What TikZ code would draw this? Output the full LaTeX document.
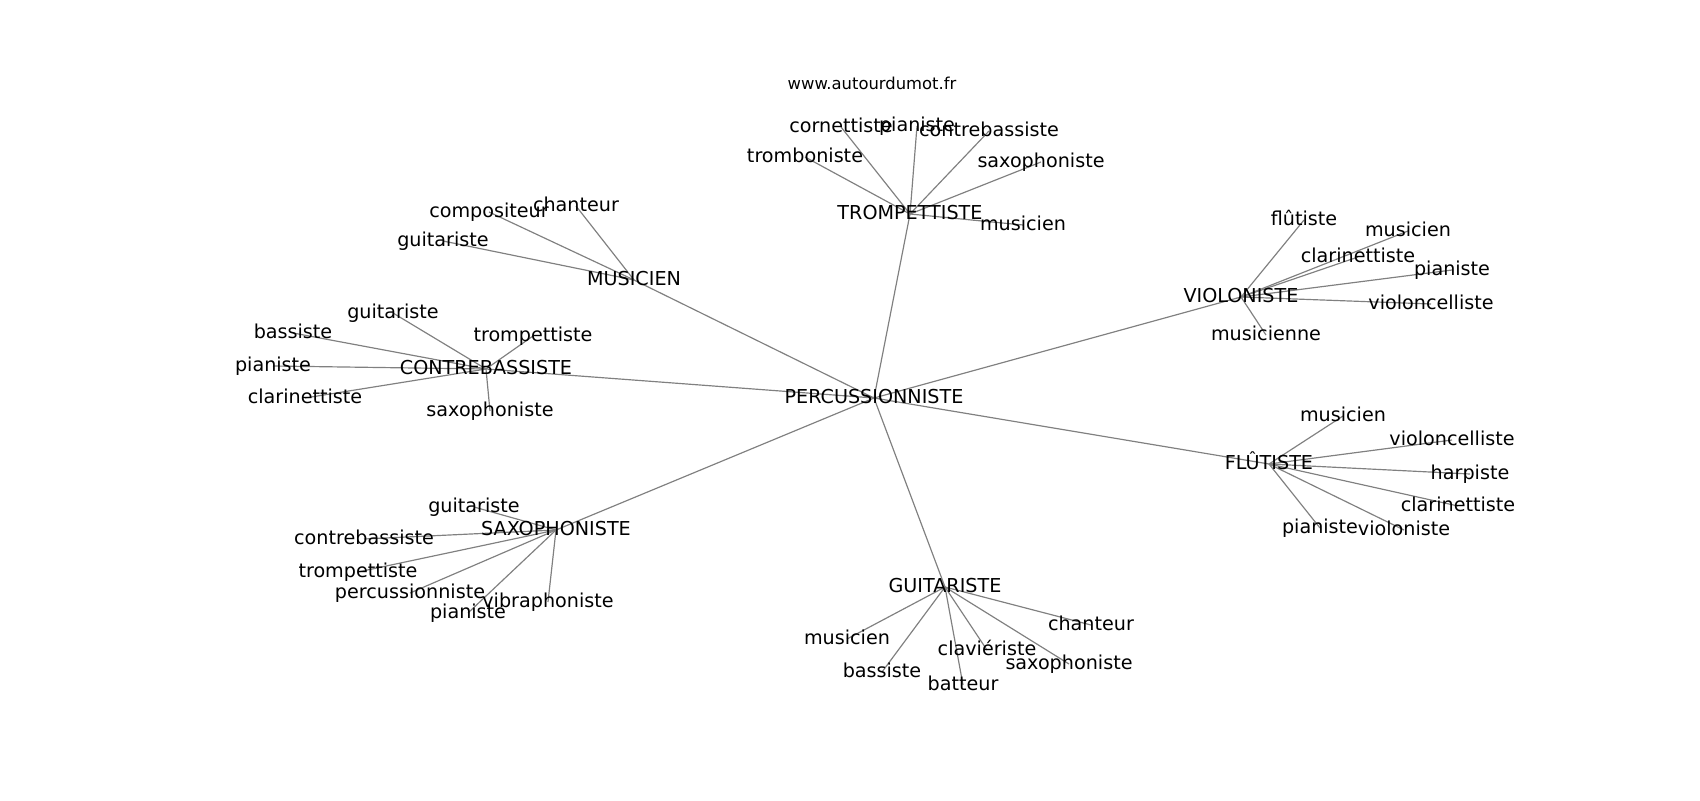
\documentclass[tikz,border=0pt]{standalone}
\usepackage{fontspec}
\setmainfont{DejaVu Sans}
\usetikzlibrary{backgrounds}
\begin{document}
\begin{tikzpicture}[x=0.72pt,y=-0.72pt,
  lbl/.style={inner sep=0pt, font=\fontsize{13.8}{16}\selectfont, text height=10.5pt, text depth=3.3pt},
  ttl/.style={inner sep=0pt, font=\fontsize{11.8}{14}\selectfont},
  edge/.style={draw=gray, line width=0.85pt}]
\useasboundingbox (0,0) rectangle (1700,800);
\node[ttl] (title) at (872,83) {www.autourdumot.fr};
% hubs
\node[lbl] (P) at (874,398) {PERCUSSIONNISTE};
\node[lbl] (T) at (910,214) {TROMPETTISTE};
\node[lbl] (M) at (634,280) {MUSICIEN};
\node[lbl] (C) at (486,369) {CONTREBASSISTE};
\node[lbl] (S) at (556,530) {SAXOPHONISTE};
\node[lbl] (G) at (945,587) {GUITARISTE};
\node[lbl] (V) at (1241,297) {VIOLONISTE};
\node[lbl] (F) at (1269,464) {FLÛTISTE};
% trompettiste leaves
\node[lbl] (t1) at (841,127) {cornettiste};
\node[lbl] (t2) at (917,126) {pianiste};
\node[lbl] (t3) at (989,131) {contrebassiste};
\node[lbl] (t4) at (805,157) {tromboniste};
\node[lbl] (t5) at (1041,162) {saxophoniste};
\node[lbl] (t6) at (1023,225) {musicien};
% musicien leaves
\node[lbl] (m1) at (576,206) {chanteur};
\node[lbl] (m2) at (489,212) {compositeur};
\node[lbl] (m3) at (443,241) {guitariste};
% contrebassiste leaves
\node[lbl] (c1) at (393,313) {guitariste};
\node[lbl] (c2) at (293,333) {bassiste};
\node[lbl] (c3) at (533,336) {trompettiste};
\node[lbl] (c4) at (273,366) {pianiste};
\node[lbl] (c5) at (305,398) {clarinettiste};
\node[lbl] (c6) at (490,411) {saxophoniste};
% saxophoniste leaves
\node[lbl] (s1) at (474,507) {guitariste};
\node[lbl] (s2) at (364,539) {contrebassiste};
\node[lbl] (s3) at (358,572) {trompettiste};
\node[lbl] (s4) at (410,593) {percussionniste};
\node[lbl] (s5) at (548,602) {vibraphoniste};
\node[lbl] (s6) at (468,613) {pianiste};
% guitariste leaves
\node[lbl] (g1) at (1091,625) {chanteur};
\node[lbl] (g2) at (847,639) {musicien};
\node[lbl] (g3) at (987,650) {claviériste};
\node[lbl] (g4) at (1069,664) {saxophoniste};
\node[lbl] (g5) at (882,672) {bassiste};
\node[lbl] (g6) at (963,685) {batteur};
% violoniste leaves
\node[lbl] (v1) at (1304,220) {flûtiste};
\node[lbl] (v2) at (1408,231) {musicien};
\node[lbl] (v3) at (1358,257) {clarinettiste};
\node[lbl] (v4) at (1452,270) {pianiste};
\node[lbl] (v5) at (1431,304) {violoncelliste};
\node[lbl] (v6) at (1266,335) {musicienne};
% flutiste leaves
\node[lbl] (f1) at (1343,416) {musicien};
\node[lbl] (f2) at (1452,440) {violoncelliste};
\node[lbl] (f3) at (1470,474) {harpiste};
\node[lbl] (f4) at (1458,506) {clarinettiste};
\node[lbl] (f5) at (1320,528) {pianiste};
\node[lbl] (f6) at (1404,530) {violoniste};
\begin{scope}[on background layer]
\foreach \h in {T,M,C,S,G,V,F} \draw[edge] (P.center) -- (\h.center);
\foreach \i in {1,...,6} \draw[edge] (T.center) -- (t\i.center);
\foreach \i in {1,2,3} \draw[edge] (M.center) -- (m\i.center);
\foreach \i in {1,...,6} \draw[edge] (C.center) -- (c\i.center);
\foreach \i in {1,...,6} \draw[edge] (S.center) -- (s\i.center);
\foreach \i in {1,...,6} \draw[edge] (G.center) -- (g\i.center);
\foreach \i in {1,...,6} \draw[edge] (V.center) -- (v\i.center);
\foreach \i in {1,...,6} \draw[edge] (F.center) -- (f\i.center);
\end{scope}
\end{tikzpicture}
\end{document}
